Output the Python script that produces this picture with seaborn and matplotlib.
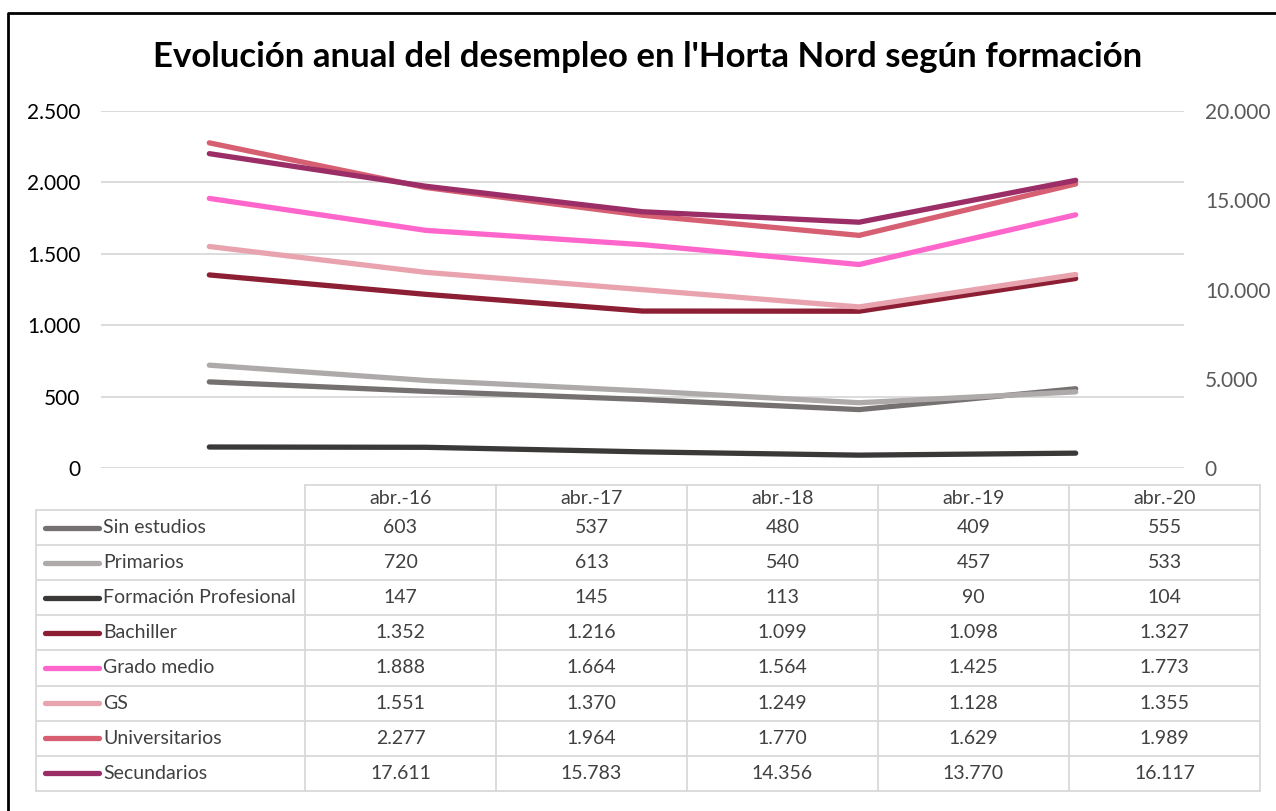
import matplotlib
matplotlib.use("Agg")
import matplotlib.pyplot as plt
import seaborn as sns
import pandas as pd

# data
periods = ["abr.-16", "abr.-17", "abr.-18", "abr.-19", "abr.-20"]
series_names = ["Sin estudios", "Primarios", "Formación Profesional", "Bachiller",
                "Grado medio", "GS", "Universitarios", "Secundarios"]
sin_estudios = [603, 537, 480, 409, 555]
primarios = [720, 613, 540, 457, 533]
formacion_prof = [147, 145, 113, 90, 104]
bachiller = [1352, 1216, 1099, 1098, 1327]
grado_medio = [1888, 1664, 1564, 1425, 1773]
gs = [1551, 1370, 1249, 1128, 1355]
universitarios = [2277, 1964, 1770, 1629, 1989]
secundarios = [17611, 15783, 14356, 13770, 16117]
values = [sin_estudios, primarios, formacion_prof, bachiller,
          grado_medio, gs, universitarios, secundarios]
colors = ["#767171", "#AEAAAA", "#3B3838", "#8C1F34",
          "#FF66CC", "#E8A3AF", "#D65F72", "#9B2E66"]
secondary = "Secundarios"

df = pd.DataFrame([
    {"periodo": p, "pos": i, "serie": n, "valor": v}
    for n, vals in zip(series_names, values)
    for i, (p, v) in enumerate(zip(periods, vals))
])


def fmt(v):
    return f"{int(v):,}".replace(",", ".")


sns.set_theme(style="white")
plt.rcParams["font.family"] = ["Lato", "DejaVu Sans"]

W, H = 1276, 811
fig = plt.figure(figsize=(W / 100, H / 100), dpi=100)

# plot area in pixels
x0, x1, y0, y1 = 101, 1184, 111, 468
ax = fig.add_axes([x0 / W, 1 - y1 / H, (x1 - x0) / W, (y1 - y0) / H])
ax2 = ax.twinx()

lw = 3.8
for n, c in zip(series_names, colors):
    target = ax2 if n == secondary else ax
    sns.lineplot(data=df[df.serie == n], x="pos", y="valor", ax=target,
                 color=c, lw=lw, solid_capstyle="round", legend=False)

ax.set_xlim(-0.5, len(periods) - 0.5)
ax.set_ylim(0, 2500)
ax2.set_ylim(0, 20000)
ax.set_yticks(range(0, 2501, 500))
ax2.set_yticks(range(0, 20001, 5000))
ax.set_yticklabels([fmt(t) for t in ax.get_yticks()], fontsize=15, color="black")
ax2.set_yticklabels([fmt(t) for t in ax2.get_yticks()], fontsize=15, color="#595959")
ax.tick_params(axis="y", length=0, pad=15)
ax2.tick_params(axis="y", length=0, pad=15)
ax.set_xticks([])
ax.set_xlabel("")
ax.set_ylabel("")
ax2.set_ylabel("")
ax.yaxis.grid(True, color="#D9D9D9", lw=1.3)
ax.set_axisbelow(True)
for a in (ax, ax2):
    for s in a.spines.values():
        s.set_visible(False)

# title
fig.text(648 / W, 1 - 57 / H, "Evolución anual del desempleo en l'Horta Nord según formación",
         ha="center", va="center", fontsize=25, fontweight="bold", color="black")

# data table, drawn in pixel coordinates
tab = fig.add_axes([0, 0, 1, 1])
tab.set_xlim(0, W)
tab.set_ylim(H, 0)
tab.axis("off")
line_kw = dict(color="#D9D9D9", lw=1.3)
tl, tc, tr = 36, 305, 1260
header_top, row_top, row_h = 485, 510, 35.1
col_w = (tr - tc) / len(periods)
n_rows = len(series_names)
bottom = row_top + n_rows * row_h

tab.plot([tc, tr], [header_top, header_top], **line_kw)
for i in range(n_rows + 1):
    yy = row_top + i * row_h
    tab.plot([tl, tr], [yy, yy], **line_kw)
tab.plot([tl, tl], [row_top, bottom], **line_kw)
for j in range(len(periods) + 1):
    xx = tc + j * col_w
    tab.plot([xx, xx], [header_top, bottom], **line_kw)

for j, p in enumerate(periods):
    tab.text(tc + (j + 0.5) * col_w, (header_top + row_top) / 2 + 1, p,
             ha="center", va="center", fontsize=14, color="#404040")

for i, (n, vals, c) in enumerate(zip(series_names, values, colors)):
    yc = row_top + (i + 0.5) * row_h
    tab.plot([45, 99], [yc, yc], color=c, lw=lw, solid_capstyle="round")
    tab.text(103, yc, n, ha="left", va="center", fontsize=14, color="#404040")
    for j, v in enumerate(vals):
        tab.text(tc + (j + 0.5) * col_w, yc, fmt(v),
                 ha="center", va="center", fontsize=14, color="#404040")

# outer chart border (left and top edges visible)
tab.plot([8, 8, W + 5], [H + 5, 12.5, 12.5], color="black", lw=2)

fig.savefig("out.png", dpi=100)
